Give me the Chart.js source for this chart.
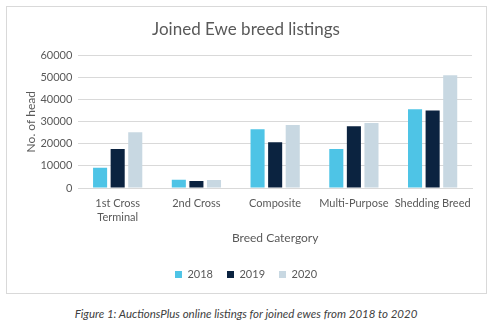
<!DOCTYPE html>
<html>
<head>
<meta charset="utf-8">
<script src="https://cdn.jsdelivr.net/npm/chart.js@4"></script>
<style>
  body { margin: 0; background: #fff; width: 502px; height: 333px; position: relative; }
  .box { position: absolute; left: 6px; top: 6px; width: 481px; height: 288px; border: 1px solid #d9d9d9; box-sizing: border-box; }
  .box canvas { display: block; }
  .caption { position: absolute; left: 0; width: 492px; top: 307px; text-align: center; font: italic 11.5px Lato, sans-serif; color: #404040; }
</style>
</head>
<body>
<div class="box"><canvas id="myChart" width="479" height="286"></canvas></div>
<div class="caption">Figure 1: AuctionsPlus online listings for joined ewes from 2018 to 2020</div>
<script>
const categories = [["1st Cross", "Terminal"], "2nd Cross", "Composite", "Multi-Purpose", "Shedding Breed"];
const years = ["2018", "2019", "2020"];
const values2018 = [9200, 3700, 26600, 17600, 35600];
const values2019 = [17700, 3200, 20700, 27900, 35100];
const values2020 = [25200, 3600, 28500, 29400, 51000];
const colors = ["#4ec4e6", "#0b2340", "#c8d8e2"];

const textColor = "#595959";
const font = "Lato, sans-serif";

const ctx = document.getElementById("myChart").getContext("2d");

new Chart(ctx, {
  type: "bar",
  data: {
    labels: categories,
    datasets: [values2018, values2019, values2020].map((vals, i) => ({
      label: years[i],
      data: vals,
      backgroundColor: colors[i],
      categoryPercentage: 0.67,
      barPercentage: 0.8,
    })),
  },
  options: {
    responsive: false,
    animation: false,
    layout: { padding: { left: 13, right: 14, top: 0, bottom: 3 } },
    plugins: {
      title: {
        display: true,
        text: "Joined Ewe breed listings",
        color: textColor,
        font: { family: font, size: 17, weight: "normal" },
        padding: { top: 12, bottom: 16 },
      },
      legend: {
        position: "bottom",
        labels: {
          color: textColor,
          boxWidth: 7,
          boxHeight: 7,
          padding: 14,
          font: { family: font, size: 11 },
        },
      },
      tooltip: { enabled: false },
    },
    scales: {
      x: {
        grid: { display: false },
        border: { color: "#d9d9d9" },
        ticks: {
          color: textColor,
          font: { family: font, size: 11, lineHeight: 1.3 },
          maxRotation: 0,
          autoSkip: false,
          padding: 0,
        },
        title: {
          display: true,
          text: "Breed Catergory",
          color: textColor,
          font: { family: font, size: 12 },
          padding: { top: 6, bottom: 10 },
        },
      },
      y: {
        min: 0,
        max: 60000,
        ticks: {
          stepSize: 10000,
          color: textColor,
          font: { family: font, size: 11 },
          padding: 6,
          callback: (value) => String(value),
        },
        grid: { color: "#d9d9d9", drawTicks: false },
        border: { display: false },
        title: {
          display: true,
          text: "No. of head",
          color: textColor,
          font: { family: font, size: 12 },
          padding: { top: 4, bottom: -4 },
        },
      },
    },
  },
});
</script>
</body>
</html>
